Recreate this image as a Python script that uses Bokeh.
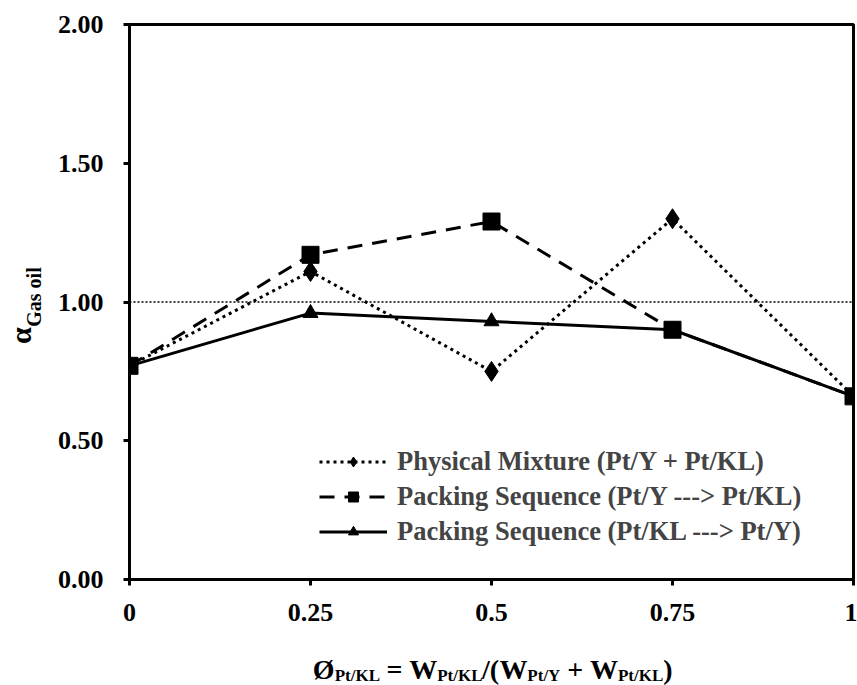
from bokeh.plotting import figure
from bokeh.layouts import column
from bokeh.models import (Range1d, FixedTicker, NumeralTickFormatter, Span,
                          Legend, LegendItem, LinearAxis)
from bokeh.core.properties import value
from bokeh.embed import file_html
from bokeh.resources import INLINE

# ---- data ----
phi = [0, 0.25, 0.5, 0.75, 1]
x_tick_labels = ["0", "0.25", "0.5", "0.75", "1"]
y_ticks = [0, 0.5, 1.0, 1.5, 2.0]
physical_mixture = [0.77, 1.11, 0.75, 1.30, 0.66]
packing_y_kl = [0.77, 1.17, 1.29, 0.90, 0.66]
packing_kl_y = [0.77, 0.96, 0.93, 0.90, 0.66]
reference_level = 1.0
series_names = ["Physical Mixture (Pt/Y + Pt/KL)",
                "Packing Sequence (Pt/Y ---> Pt/KL)",
                "Packing Sequence (Pt/KL ---> Pt/Y)"]

# x-axis title pieces: Ø_{Pt/KL} = W_{Pt/KL}/(W_{Pt/Y} + W_{Pt/KL})
xt_main = ["Ø", "=", "W", "/(", "W", "+", "W", ")"]
xt_sub = ["Pt/KL", "Pt/KL", "Pt/Y", "Pt/KL"]
# y-axis title: α_{Gas oil}
yt_main = "α"
yt_sub = "Gas oil"

FONT = "Liberation Serif"
NB = "\u00a0"
W, H = 857, 685
FL, FR, FT, FB = 126, 853, 24, 579   # frame edges in page px
TOP_H = 633
BH = H - TOP_H

# ---------------- main chart ----------------
p = figure(width=W, height=TOP_H, output_backend="svg", toolbar_location=None,
           x_range=Range1d(0, 1), y_range=Range1d(0, 2),
           min_border_left=FL, min_border_right=W - FR, min_border_top=FT,
           min_border_bottom=TOP_H - FB)
p.background_fill_color = "white"
p.border_fill_color = "white"
p.xgrid.visible = False
p.ygrid.visible = False
p.outline_line_color = "black"
p.outline_line_width = 3

for ax in (p.xaxis[0], p.yaxis[0]):
    ax.axis_line_width = 3
    ax.major_tick_line_width = 3
    ax.major_tick_out = 6
    ax.major_tick_in = 0
    ax.minor_tick_line_color = None
    ax.major_label_text_font = FONT
    ax.major_label_text_font_style = "bold"
    ax.major_label_text_font_size = "26px"
    ax.major_label_text_color = "black"

p.xaxis.ticker = FixedTicker(ticks=phi)
p.xaxis.major_label_overrides = {t: s for t, s in zip(phi, x_tick_labels)}
p.xaxis.major_label_standoff = 18
p.yaxis.ticker = FixedTicker(ticks=y_ticks)
p.yaxis.formatter = NumeralTickFormatter(format="0.00")
p.yaxis.major_label_standoff = 20


def title_axis(text, size, standoff):
    a = LinearAxis(ticker=FixedTicker(ticks=[]), axis_line_color=None,
                   major_tick_line_color=None, minor_tick_line_color=None,
                   major_tick_out=0, major_tick_in=0, minor_tick_out=0,
                   major_label_standoff=0, major_label_text_font_size="0px")
    a.axis_label = text
    a.axis_label_text_font = FONT
    a.axis_label_text_font_style = "bold"
    a.axis_label_text_font_size = f"{size}px"
    a.axis_label_text_color = "black"
    a.axis_label_standoff = standoff
    p.add_layout(a, "left")
    return a


# subscript first (nearer the frame), then the alpha further out
title_axis(NB * 2 + yt_sub, 20, 10)
title_axis(yt_main + NB * 9, 30, -17)

p.add_layout(Span(location=reference_level, dimension="width", line_color="black",
                  line_width=1.5, line_dash="2 2"))

r_kl_y_l = p.line(phi, packing_kl_y, line_color="black", line_width=3)
r_kl_y_m = p.scatter(phi, packing_kl_y, marker="triangle", size=15, color="black")
r_pm_l = p.line(phi, physical_mixture, line_color="black", line_width=3,
                line_dash="3 4")
r_pm_m = p.scatter(phi, physical_mixture, marker="diamond", size=20, color="black")
r_y_kl_l = p.line(phi, packing_y_kl, line_color="black", line_width=3,
                  line_dash="15 10")
r_y_kl_m = p.scatter(phi, packing_y_kl, marker="square", size=17, color="black")

legend = Legend(items=[
    LegendItem(label=series_names[0], renderers=[r_pm_l, r_pm_m]),
    LegendItem(label=series_names[1], renderers=[r_y_kl_l, r_y_kl_m]),
    LegendItem(label=series_names[2], renderers=[r_kl_y_l, r_kl_y_m]),
], location=(190, 32), orientation="vertical")
legend.border_line_color = None
legend.background_fill_alpha = 0
legend.glyph_width = 68
legend.glyph_height = 25
legend.label_height = 25
legend.spacing = 4
legend.padding = 10
legend.margin = 0
legend.label_standoff = 10
legend.label_text_font = FONT
legend.label_text_font_style = "bold"
legend.label_text_font_size = "26.5px"
p.add_layout(legend, "center")

# ---------- bottom title strip (coords = page px, y flipped) ----------
xb = figure(width=W, height=BH, output_backend="svg", toolbar_location=None,
            x_range=Range1d(FL, FR), y_range=Range1d(0, BH),
            x_axis_type=None, y_axis_type=None,
            min_border_left=FL, min_border_right=W - FR,
            min_border_top=0, min_border_bottom=0)
xb.xgrid.visible = False
xb.ygrid.visible = False
xb.outline_line_color = None
xb.background_fill_color = "white"
xb.border_fill_color = "white"

main_x = [310, 384, 407, 480, 497.5, 565.5, 588.5, 662]
sub_x = [332, 435, 525.5, 616.5]
MB, SB = 669, 675
xb.text(x=main_x, y=[H - MB] * len(xt_main), text=xt_main,
        text_font=value(FONT), text_font_style="bold", text_font_size="28px",
        text_color="black", text_align="left", text_baseline="alphabetic")
xb.text(x=sub_x, y=[H - SB] * len(xt_sub), text=xt_sub,
        text_font=value(FONT), text_font_style="bold", text_font_size="17px",
        text_color="black", text_align="left", text_baseline="alphabetic")

layout = column(p, xb, spacing=0)
open("out.html", "w").write(file_html(layout, INLINE))
